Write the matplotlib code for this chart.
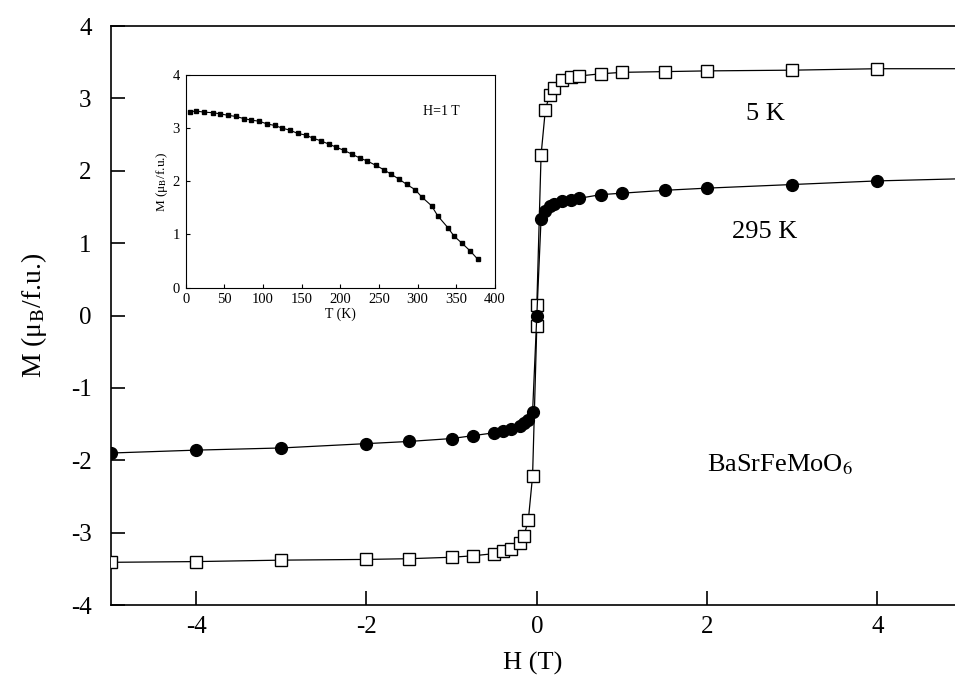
import matplotlib
matplotlib.use('Agg')
import matplotlib.pyplot as plt

plt.rcParams['font.family'] = ['Liberation Serif', 'DejaVu Serif']
plt.rcParams['mathtext.fontset'] = 'stix'
plt.rcParams['axes.unicode_minus'] = False

# M(H) at 5 K (open squares)
h_5k = [-5, -4, -3, -2, -1.5, -1, -0.75, -0.5, -0.4, -0.3, -0.2, -0.15, -0.1, -0.05, 0, 0,
        0.05, 0.1, 0.15, 0.2, 0.3, 0.4, 0.5, 0.75, 1, 1.5, 2, 3, 4, 5]
m_5k = [-3.41, -3.40, -3.38, -3.37, -3.36, -3.34, -3.32, -3.29, -3.26, -3.22, -3.14, -3.04, -2.83, -2.22, -0.14, 0.14,
        2.22, 2.84, 3.05, 3.14, 3.25, 3.29, 3.31, 3.34, 3.36, 3.37, 3.38, 3.39, 3.41, 3.41]

# M(H) at 295 K (filled circles)
h_295k = [-5, -4, -3, -2, -1.5, -1, -0.75, -0.5, -0.4, -0.3, -0.2, -0.15, -0.1, -0.05, 0,
          0.05, 0.1, 0.15, 0.2, 0.3, 0.4, 0.5, 0.75, 1, 1.5, 2, 3, 4, 5]
m_295k = [-1.90, -1.86, -1.83, -1.77, -1.74, -1.70, -1.66, -1.62, -1.60, -1.57, -1.53, -1.49, -1.45, -1.34, 0.0,
          1.34, 1.45, 1.51, 1.54, 1.58, 1.60, 1.62, 1.67, 1.69, 1.73, 1.76, 1.81, 1.86, 1.89]

# inset: M(T) at H = 1 T
t_inset = [5, 14, 24, 35, 44, 55, 65, 75, 85, 95, 105, 115, 125, 135, 145, 155, 165, 175, 185,
           195, 205, 215, 225, 235, 246, 256, 266, 276, 286, 297, 305, 318, 326, 339, 347, 357, 368, 378]
m_inset = [3.31, 3.32, 3.30, 3.29, 3.27, 3.24, 3.22, 3.18, 3.15, 3.13, 3.08, 3.05, 3.00, 2.96, 2.90,
           2.87, 2.81, 2.76, 2.70, 2.64, 2.58, 2.51, 2.44, 2.38, 2.30, 2.22, 2.13, 2.04, 1.94, 1.84,
           1.71, 1.54, 1.35, 1.13, 0.97, 0.84, 0.69, 0.53]

fig = plt.figure(figsize=(9.55, 6.92), dpi=100)
ax = fig.add_axes([0.1162, 0.1257, 0.8838, 0.8367])

ax.plot(h_5k, m_5k, '-', color='black', lw=0.9, marker='s', ms=8.5, mfc='white', mec='black', mew=1.0, zorder=3)
ax.plot(h_295k, m_295k, '-', color='black', lw=0.9, marker='o', ms=8.5, mfc='black', mec='black', zorder=4)

ax.set_xlim(-5, 4.91)
ax.set_ylim(-4, 4)
ax.set_xticks([-4, -2, 0, 2, 4])
ax.set_yticks(range(-4, 5))
ax.tick_params(direction='in', length=10, width=1.2, labelsize=18, pad=8)
ax.tick_params(axis='y', pad=14)
ax.spines['right'].set_visible(False)
for s in ['left', 'bottom', 'top']:
    ax.spines[s].set_linewidth(1.2)
ax.set_xlabel('H (T)', fontsize=19, labelpad=10)
ax.set_ylabel('M (μ$_\\mathrm{B}$/f.u.)', fontsize=20, labelpad=16)

ax.text(2.68, 2.78, '5 K', fontsize=19, ha='center', va='center')
ax.text(2.68, 1.16, '295 K', fontsize=19, ha='center', va='center')
ax.text(2.85, -2.06, 'BaSrFeMoO$_6$', fontsize=19, ha='center', va='center')

# inset
axi = fig.add_axes([0.1944, 0.5843, 0.3239, 0.3074])
axi.plot(t_inset, m_inset, '-', color='black', lw=0.8, marker='s', ms=3.5, mfc='black', mec='black')
axi.set_xlim(0, 400)
axi.set_ylim(0, 4)
axi.set_xticks(range(0, 401, 50))
axi.set_yticks(range(0, 5))
axi.tick_params(direction='in', length=3, width=0.8, labelsize=10.5, pad=4)
for s in axi.spines.values():
    s.set_linewidth(0.8)
axi.set_xlabel('T (K)', fontsize=10, labelpad=1)
axi.set_ylabel('M (μ$_\\mathrm{B}$/f.u.)', fontsize=9.5, labelpad=2)
axi.text(330, 3.31, 'H=1 T', fontsize=10, ha='center', va='center')

fig.savefig('out.png', dpi=100)
